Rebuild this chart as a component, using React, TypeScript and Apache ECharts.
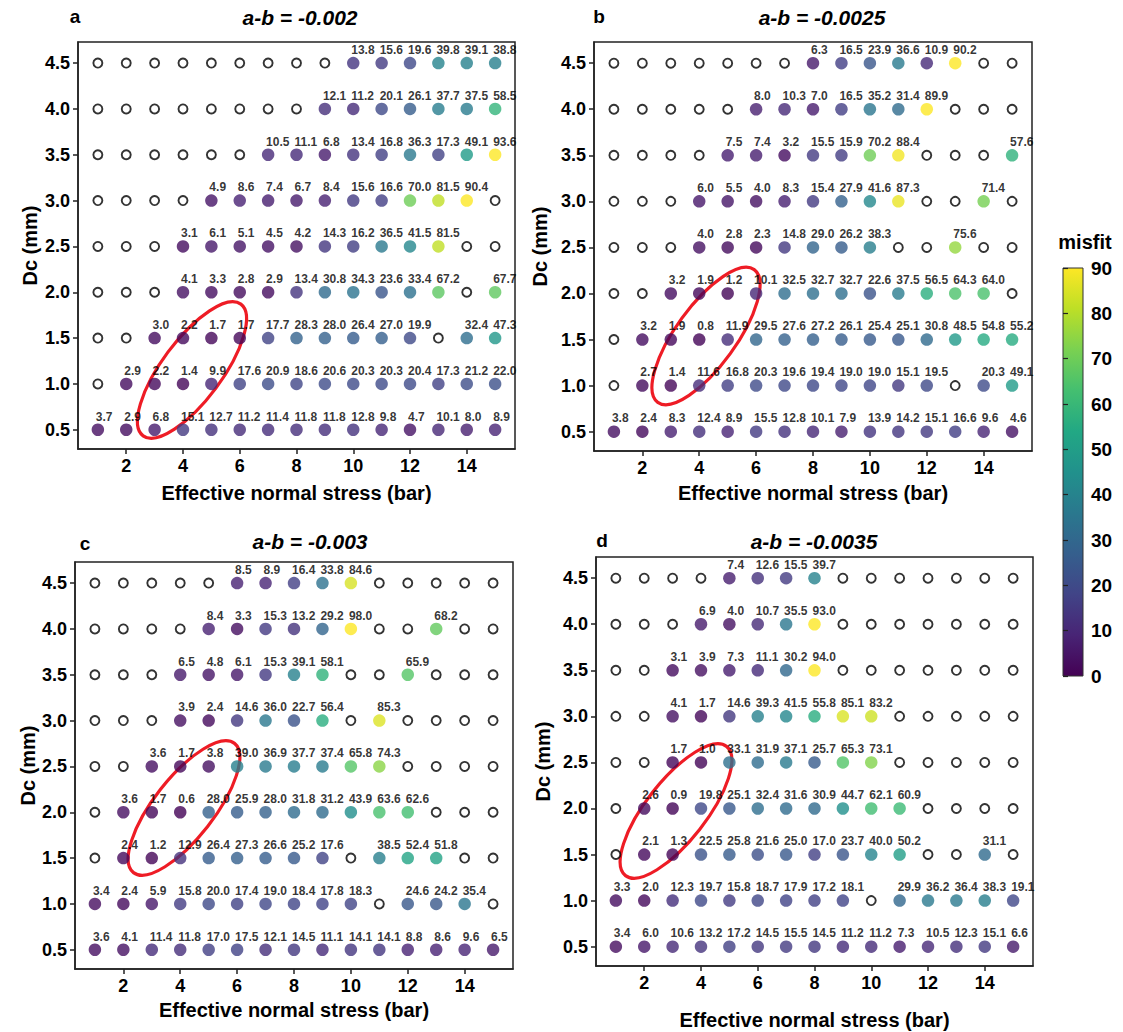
import React, { useEffect, useRef } from "react";
import * as echarts from "echarts";

// ---------------- data ----------------
const stress = [1, 2, 3, 4, 5, 6, 7, 8, 9, 10, 11, 12, 13, 14, 15];
const dcLevels = [0.5, 1.0, 1.5, 2.0, 2.5, 3.0, 3.5, 4.0, 4.5];
const stressTicks = [2, 4, 6, 8, 10, 12, 14];
const N = null;

// rows: Dc = 0.5 ... 4.5 ; columns: stress 1 ... 15 ; null = not converged (open circle)
const misfitA: (number | null)[][] = [
  [3.7, 2.9, 6.8, 15.1, 12.7, 11.2, 11.4, 11.8, 11.8, 12.8, 9.8, 4.7, 10.1, 8.0, 8.9],
  [N, 2.9, 2.2, 1.4, 9.9, 17.6, 20.9, 18.6, 20.6, 20.3, 20.3, 20.4, 17.3, 21.2, 22.0],
  [N, N, 3.0, 2.2, 1.7, 1.7, 17.7, 28.3, 28.0, 26.4, 27.0, 19.9, N, 32.4, 47.3],
  [N, N, N, 4.1, 3.3, 2.8, 2.9, 13.4, 30.8, 34.3, 23.6, 33.4, 67.2, N, 67.7],
  [N, N, N, 3.1, 6.1, 5.1, 4.5, 4.2, 14.3, 16.2, 36.5, 41.5, 81.5, N, N],
  [N, N, N, N, 4.9, 8.6, 7.4, 6.7, 8.4, 15.6, 16.6, 70.0, 81.5, 90.4, N],
  [N, N, N, N, N, N, 10.5, 11.1, 6.8, 13.4, 16.8, 36.3, 17.3, 49.1, 93.6],
  [N, N, N, N, N, N, N, N, 12.1, 11.2, 20.1, 26.1, 37.7, 37.5, 58.5],
  [N, N, N, N, N, N, N, N, N, 13.8, 15.6, 19.6, 39.8, 39.1, 38.8],
];
const misfitB: (number | null)[][] = [
  [3.8, 2.4, 8.3, 12.4, 8.9, 15.5, 12.8, 10.1, 7.9, 13.9, 14.2, 15.1, 16.6, 9.6, 4.6],
  [N, 2.7, 1.4, 11.6, 16.8, 20.3, 19.6, 19.4, 19.0, 19.0, 15.1, 19.5, N, 20.3, 49.1],
  [N, 3.2, 1.9, 0.8, 11.9, 29.5, 27.6, 27.2, 26.1, 25.4, 25.1, 30.8, 48.5, 54.8, 55.2],
  [N, N, 3.2, 1.9, 1.2, 10.1, 32.5, 32.7, 32.7, 22.6, 37.5, 56.5, 64.3, 64.0, N],
  [N, N, N, 4.0, 2.8, 2.3, 14.8, 29.0, 26.2, 38.3, N, N, 75.6, N, N],
  [N, N, N, 6.0, 5.5, 4.0, 8.3, 15.4, 27.9, 41.6, 87.3, N, N, 71.4, N],
  [N, N, N, N, 7.5, 7.4, 3.2, 15.5, 15.9, 70.2, 88.4, N, N, N, 57.6],
  [N, N, N, N, N, 8.0, 10.3, 7.0, 16.5, 35.2, 31.4, 89.9, N, N, N],
  [N, N, N, N, N, N, N, 6.3, 16.5, 23.9, 36.6, 10.9, 90.2, N, N],
];
const misfitC: (number | null)[][] = [
  [3.6, 4.1, 11.4, 11.8, 17.0, 17.5, 12.1, 14.5, 11.1, 14.1, 14.1, 8.8, 8.6, 9.6, 6.5],
  [3.4, 2.4, 5.9, 15.8, 20.0, 17.4, 19.0, 18.4, 17.8, 18.3, N, 24.6, 24.2, 35.4, N],
  [N, 2.4, 1.2, 12.9, 26.4, 27.3, 26.6, 25.2, 17.6, N, 38.5, 52.4, 51.8, N, N],
  [N, 3.6, 1.7, 0.6, 28.0, 25.9, 28.0, 31.8, 31.2, 43.9, 63.6, 62.6, N, N, N],
  [N, N, 3.6, 1.7, 3.8, 39.0, 36.9, 37.7, 37.4, 65.8, 74.3, N, N, N, N],
  [N, N, N, 3.9, 2.4, 14.6, 36.0, 22.7, 56.4, N, 85.3, N, N, N, N],
  [N, N, N, 6.5, 4.8, 6.1, 15.3, 39.1, 58.1, N, N, 65.9, N, N, N],
  [N, N, N, N, 8.4, 3.3, 15.3, 13.2, 29.2, 98.0, N, N, 68.2, N, N],
  [N, N, N, N, N, 8.5, 8.9, 16.4, 33.8, 84.6, N, N, N, N, N],
];
const misfitD: (number | null)[][] = [
  [3.4, 6.0, 10.6, 13.2, 17.2, 14.5, 15.5, 14.5, 11.2, 11.2, 7.3, 10.5, 12.3, 15.1, 6.6],
  [3.3, 2.0, 12.3, 19.7, 15.8, 18.7, 17.9, 17.2, 18.1, N, 29.9, 36.2, 36.4, 38.3, 19.1],
  [N, 2.1, 1.3, 22.5, 25.8, 21.6, 25.0, 17.0, 23.7, 40.0, 50.2, N, N, 31.1, N],
  [N, 2.6, 0.9, 19.8, 25.1, 32.4, 31.6, 30.9, 44.7, 62.1, 60.9, N, N, N, N],
  [N, N, 1.7, 1.0, 33.1, 31.9, 37.1, 25.7, 65.3, 73.1, N, N, N, N, N],
  [N, N, 4.1, 1.7, 14.6, 39.3, 41.5, 55.8, 85.1, 83.2, N, N, N, N, N],
  [N, N, 3.1, 3.9, 7.3, 11.1, 30.2, 94.0, N, N, N, N, N, N, N],
  [N, N, N, 6.9, 4.0, 10.7, 35.5, 93.0, N, N, N, N, N, N, N],
  [N, N, N, N, 7.4, 12.6, 15.5, 39.7, N, N, N, N, N, N, N],
];

const panelLetters = ["a", "b", "c", "d"];
const panelTitles = ["a-b = -0.002", "a-b = -0.0025", "a-b = -0.003", "a-b = -0.0035"];
const panelData = [misfitA, misfitB, misfitC, misfitD];

const viridis = [
  "#440154", "#482475", "#414487", "#355f8d", "#2a788e", "#21918c",
  "#22a884", "#44bf70", "#7ad151", "#bddf26", "#fde725",
];

// ---------------- layout ----------------
const FONT = '"Liberation Sans", Arial, Helvetica, sans-serif';
const INK = "#000";
const layout = [
  { left: 78, top: 42, width: 437, height: 407, gapX: 34, gapY: 38, letter: [75, 16], title: [300, 17], ell: [192, 370, 53.4] },
  { left: 594, top: 42, width: 438, height: 409, gapX: 32, gapY: 44, letter: [599, 16], title: [822, 17], ell: [706, 336, 54] },
  { left: 75, top: 562, width: 438, height: 407, gapX: 31, gapY: 35, letter: [85, 543], title: [310, 541], ell: [184, 808, 52] },
  { left: 596, top: 557, width: 437, height: 409, gapX: 44, gapY: 43, letter: [602, 540], title: [814, 541], ell: [676, 811, 52] },
];

function buildOption() {
  const grid: any[] = [];
  const xAxis: any[] = [];
  const yAxis: any[] = [];
  const series: any[] = [];
  const graphic: any[] = [];
  const lineStyle = { color: "#222", width: 1.5 };

  layout.forEach((L, i) => {
    grid.push({
      left: L.left, top: L.top, width: L.width, height: L.height,
      show: true, borderColor: "#222", borderWidth: 1.5, backgroundColor: "transparent",
    });
    xAxis.push({
      gridIndex: i, type: "value", min: 0.3, max: 15.7,
      name: "Effective normal stress (bar)", nameLocation: "middle", nameGap: L.gapX,
      nameTextStyle: { fontSize: 20, fontWeight: "bold", color: INK, fontFamily: FONT },
      axisLine: { show: true, lineStyle },
      axisTick: { show: true, inside: false, length: 5, customValues: stressTicks, lineStyle },
      axisLabel: { customValues: stressTicks, fontSize: 18, fontWeight: "bold", color: INK, fontFamily: FONT, margin: 8 },
      splitLine: { show: false },
    });
    yAxis.push({
      gridIndex: i, type: "value", min: 0.29, max: 4.73,
      name: "Dc (mm)", nameLocation: "middle", nameGap: L.gapY,
      nameTextStyle: { fontSize: 20, fontWeight: "bold", color: INK, fontFamily: FONT },
      axisLine: { show: true, lineStyle },
      axisTick: { show: true, inside: false, length: 5, customValues: dcLevels, lineStyle },
      axisLabel: {
        customValues: dcLevels, fontSize: 18, fontWeight: "bold", color: INK, fontFamily: FONT, margin: 8,
        formatter: (v: number) => Number(v).toFixed(1),
      },
      splitLine: { show: false },
    });

    const filled: any[] = [];
    const open: any[] = [];
    panelData[i].forEach((row, r) => {
      row.forEach((v, c) => {
        if (v === null) open.push([stress[c], dcLevels[r]]);
        else filled.push([stress[c], dcLevels[r], v]);
      });
    });
    series.push({
      type: "scatter", xAxisIndex: i, yAxisIndex: i, data: filled,
      symbol: "circle", symbolSize: 12.5,
      label: {
        show: true, position: "top", distance: 1, align: "left", offset: [-2, 0],
        fontSize: 12, fontWeight: "bold", color: INK, fontFamily: FONT,
        formatter: (p: any) => Number(p.value[2]).toFixed(1),
      },
      z: 3,
    });
    series.push({
      type: "scatter", xAxisIndex: i, yAxisIndex: i, data: open,
      symbol: "circle", symbolSize: 9,
      itemStyle: { color: "#fff", borderColor: "#000", borderWidth: 1.9 },
      z: 2,
    });

    graphic.push({
      type: "text", x: L.letter[0], y: L.letter[1],
      style: { text: panelLetters[i], fontSize: 19, fontWeight: "bold", fontFamily: FONT, fill: INK, align: "center", verticalAlign: "middle" },
    });
    graphic.push({
      type: "text", x: L.title[0], y: L.title[1],
      style: { text: panelTitles[i], fontSize: 21, fontWeight: "bold", fontStyle: "italic", fontFamily: FONT, fill: INK, align: "center", verticalAlign: "middle" },
    });
    graphic.push({
      type: "group", x: L.ell[0], y: L.ell[1], rotation: (L.ell[2] * Math.PI) / 180, z: 100,
      children: [{
        type: "ellipse", shape: { cx: 0, cy: 0, rx: 82, ry: 30 },
        style: { fill: "transparent", stroke: "#ee1c25", lineWidth: 3.2 },
      }],
    });
  });

  // colour bar
  grid.push({ left: 1063, top: 268, width: 20, height: 408, show: false });
  xAxis.push({ gridIndex: 4, type: "value", min: 0, max: 1, show: false });
  yAxis.push({
    gridIndex: 4, type: "value", position: "right", min: 0, max: 90, interval: 10,
    axisLine: { show: false },
    axisTick: { show: true, inside: false, length: 5, lineStyle: { color: "#222", width: 1.2 } },
    axisLabel: { fontSize: 19, fontWeight: "bold", color: INK, fontFamily: FONT, margin: 8 },
    splitLine: { show: false },
  });
  graphic.push({
    type: "rect", shape: { x: 1063, y: 268, width: 20, height: 408 },
    style: {
      fill: new echarts.graphic.LinearGradient(0, 1, 0, 0,
        viridis.map((c, k) => ({ offset: k / (viridis.length - 1), color: c }))),
      stroke: "#333", lineWidth: 1,
    },
  });
  graphic.push({
    type: "text", x: 1085, y: 242,
    style: { text: "misfit", fontSize: 20, fontWeight: "bold", fontFamily: FONT, fill: INK, align: "center", verticalAlign: "middle" },
  });

  return {
    animation: false,
    backgroundColor: "#fff",
    textStyle: { fontFamily: FONT },
    grid, xAxis, yAxis, series, graphic,
    visualMap: {
      type: "continuous", show: false, seriesIndex: [0, 2, 4, 6], dimension: 2,
      min: 0, max: 90, inRange: { color: viridis },
    },
  };
}

export default function App() {
  const ref = useRef<HTMLDivElement>(null);
  useEffect(() => {
    if (!ref.current) return;
    const chart = echarts.init(ref.current, undefined, { renderer: "svg" });
    chart.setOption(buildOption() as any);
    return () => chart.dispose();
  }, []);
  return (
    <div
      ref={ref}
      style={{ position: "absolute", left: 0, top: 0, width: 1123, height: 1032, background: "#fff" }}
    />
  );
}
